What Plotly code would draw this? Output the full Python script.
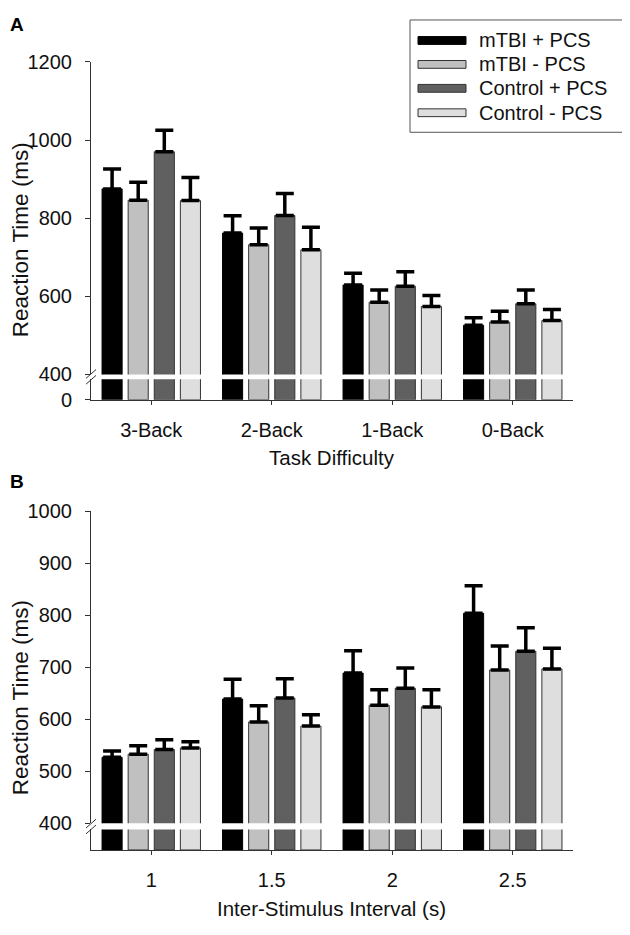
import plotly.graph_objects as go

# ---------------- data ----------------
series_names = ["mTBI + PCS", "mTBI - PCS", "Control + PCS", "Control - PCS"]

cats_a = ["3-Back", "2-Back", "1-Back", "0-Back"]
a_mtbi_pcs = [875, 762, 629, 526]
a_mtbi_nopcs = [846, 732, 585, 534]
a_ctrl_pcs = [970, 807, 626, 581]
a_ctrl_nopcs = [845, 719, 574, 538]
a_err_mtbi_pcs = [51, 44, 30, 19]
a_err_mtbi_nopcs = [46, 43, 31, 28]
a_err_ctrl_pcs = [55, 56, 37, 35]
a_err_ctrl_nopcs = [59, 58, 28, 28]

cats_b = ["1", "1.5", "2", "2.5"]
b_mtbi_pcs = [527, 639, 689, 804]
b_mtbi_nopcs = [533, 595, 627, 695]
b_ctrl_pcs = [542, 641, 660, 731]
b_ctrl_nopcs = [545, 587, 624, 697]
b_err_mtbi_pcs = [12, 38, 43, 53]
b_err_mtbi_nopcs = [16, 31, 30, 46]
b_err_ctrl_pcs = [19, 37, 39, 45]
b_err_ctrl_nopcs = [12, 22, 33, 40]

ticks_a_upper = [400, 600, 800, 1000, 1200]
ticks_a_lower = [0]
ticks_b_upper = [400, 500, 600, 700, 800, 900, 1000]

# ---------------- style ----------------
W, H = 630, 935
OFF = 8  # the page body margin shifts the figure by 8 px
FONT = "Arial, Liberation Sans, sans-serif"
fills = ["#000000", "#c0c0c0", "#606060", "#dedede"]
outline = "#333333"
axis_col = "#333333"


def px(x):
    return (x - OFF) / W


def py(y):
    return 1 - (y - OFF) / H


vals_a = [a_mtbi_pcs, a_mtbi_nopcs, a_ctrl_pcs, a_ctrl_nopcs]
errs_a = [a_err_mtbi_pcs, a_err_mtbi_nopcs, a_err_ctrl_pcs, a_err_ctrl_nopcs]
vals_b = [b_mtbi_pcs, b_mtbi_nopcs, b_ctrl_pcs, b_ctrl_nopcs]
errs_b = [b_err_mtbi_pcs, b_err_mtbi_nopcs, b_err_ctrl_pcs, b_err_ctrl_nopcs]

fig = go.Figure()

panels = [
    (cats_a, vals_a, errs_a, "x", "y", "x2", "y2"),
    (cats_b, vals_b, errs_b, "x3", "y3", "x4", "y4"),
]
for cats, vals, errs, xu, yu, xl, yl in panels:
    for i, name in enumerate(series_names):
        marker = dict(color=fills[i], line=dict(color=outline if i else "#000000", width=1))
        fig.add_trace(go.Bar(
            x=cats, y=vals[i], name=name, marker=marker, showlegend=False,
            xaxis=xu, yaxis=yu,
            error_y=dict(type="data", array=errs[i], symmetric=False,
                         arrayminus=[0] * len(cats), color="#000000",
                         thickness=3.5, width=9),
        ))
        fig.add_trace(go.Bar(
            x=cats, y=vals[i], name=name, marker=marker, showlegend=False,
            xaxis=xl, yaxis=yl,
        ))

xdom = [px(91), px(573)]
tickfont = dict(family=FONT, size=20, color="#111111")

common_y = dict(showgrid=False, zeroline=False, showline=True, linecolor=axis_col,
                linewidth=1, ticks="outside", ticklen=5, tickcolor=axis_col,
                tickfont=tickfont, ticklabelstandoff=9, fixedrange=True)

layout_axes = dict(
    xaxis=dict(domain=xdom, anchor="y", type="category", range=[-0.5, 3.5],
               showticklabels=False, showline=False, ticks="", showgrid=False,
               zeroline=False),
    yaxis=dict(domain=[py(372), py(52)], anchor="x", range=[400, 1200],
               tickvals=ticks_a_upper, **common_y),
    xaxis2=dict(domain=xdom, anchor="y2", type="category", range=[-0.5, 3.5],
                showline=True, linecolor=axis_col, linewidth=1, ticks="outside",
                ticklen=4, tickcolor=axis_col, tickfont=tickfont,
                ticklabelstandoff=8, showgrid=False, zeroline=False),
    yaxis2=dict(domain=[py(398), py(377)], anchor="x2", range=[0, 52],
                tickvals=ticks_a_lower, **common_y),
    xaxis3=dict(domain=xdom, anchor="y3", type="category", range=[-0.5, 3.5],
                showticklabels=False, showline=False, ticks="", showgrid=False,
                zeroline=False),
    yaxis3=dict(domain=[py(831.7), py(512.3)], anchor="x3", range=[400, 1000],
                tickvals=ticks_b_upper, **common_y),
    xaxis4=dict(domain=xdom, anchor="y4", type="category", range=[-0.5, 3.5],
                showline=True, linecolor=axis_col, linewidth=1, ticks="outside",
                ticklen=4, tickcolor=axis_col, tickfont=tickfont,
                ticklabelstandoff=8, showgrid=False, zeroline=False),
    yaxis4=dict(domain=[py(859), py(838)], anchor="x4", range=[0, 40],
                showgrid=False, zeroline=False, showline=True, linecolor=axis_col,
                linewidth=1, ticks="", showticklabels=False),
)

shapes = []
annotations = []

# axis break marks
for gap_c in (374.5, 835):
    for off in (-3, 3):
        shapes.append(dict(type="line", xref="paper", yref="paper",
                           x0=px(86), y0=py(gap_c + off + 4.5),
                           x1=px(96), y1=py(gap_c + off - 4.5),
                           line=dict(color=axis_col, width=1)))

# legend (box + swatches + labels)
shapes.append(dict(type="rect", xref="paper", yref="paper",
                   x0=px(410), x1=px(625), y0=py(124), y1=py(9),
                   line=dict(color="#555555", width=1), fillcolor="rgba(0,0,0,0)"))
rows = [30, 54.5, 79, 104]
for i, name in enumerate(series_names):
    shapes.append(dict(type="rect", xref="paper", yref="paper",
                       x0=px(418), x1=px(466), y0=py(rows[i] + 4), y1=py(rows[i] - 4),
                       line=dict(color=outline if i else "#000000", width=1),
                       fillcolor=fills[i]))
    annotations.append(dict(text=name, xref="paper", yref="paper",
                            x=px(477), y=py(rows[i]), xanchor="left", yanchor="middle",
                            showarrow=False,
                            font=dict(family=FONT, size=20, color="#111111")))

# panel letters
for letter, yc in (("A", 13.5), ("B", 481.5)):
    annotations.append(dict(text="<b>%s</b>" % letter, xref="paper", yref="paper",
                            x=px(8), y=py(yc), xanchor="left", yanchor="middle",
                            showarrow=False,
                            font=dict(family=FONT, size=19, color="#000000")))

# axis titles
for yc in (234, 703):
    annotations.append(dict(text="Reaction Time (ms)", xref="paper", yref="paper",
                            x=px(20.5), y=py(yc), xanchor="center", yanchor="middle",
                            textangle=-90, showarrow=False,
                            font=dict(family=FONT, size=22.5, color="#111111")))
for text, yc in (("Task Difficulty", 457), ("Inter-Stimulus Interval (s)", 919)):
    annotations.append(dict(text=text, xref="paper", yref="paper",
                            x=px(332), y=py(yc), xanchor="center", yanchor="middle",
                            showarrow=False,
                            font=dict(family=FONT, size=20.5, color="#111111")))

fig.update_layout(
    width=W, height=H,
    margin=dict(l=0, r=0, t=0, b=0),
    paper_bgcolor="white", plot_bgcolor="white",
    barmode="group", bargap=0.1333, bargroupgap=0.2308,
    shapes=shapes, annotations=annotations,
    font=dict(family=FONT, color="#111111"),
    **layout_axes,
)

fig.write_html("out.html")
